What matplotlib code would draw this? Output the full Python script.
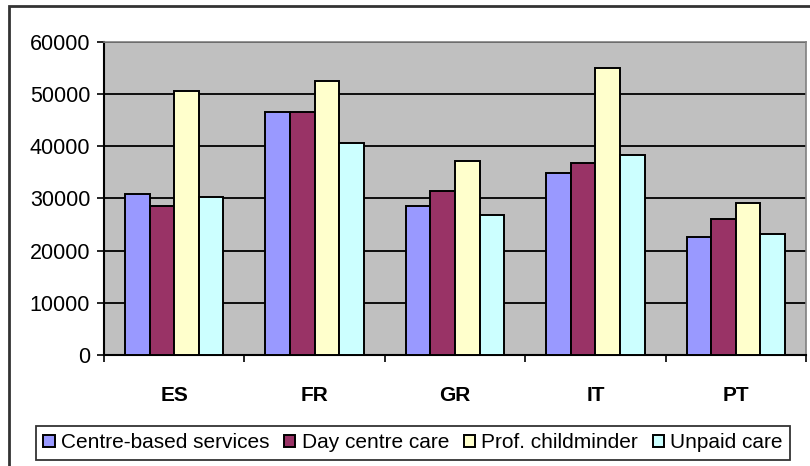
import matplotlib.pyplot as plt
import numpy as np
from matplotlib.patches import Rectangle

plt.rcParams['font.family'] = ['Liberation Sans', 'DejaVu Sans']

countries = ['ES', 'FR', 'GR', 'IT', 'PT']
series = ['Centre-based services', 'Day centre care', 'Prof. childminder', 'Unpaid care']
centre_based = [30800, 46500, 28500, 34900, 22600]
day_centre = [28500, 46500, 31500, 36900, 26100]
prof_childminder = [50700, 52600, 37200, 55000, 29200]
unpaid_care = [30300, 40700, 26900, 38300, 23100]
colors = ['#9999FF', '#993366', '#FFFFCC', '#CCFFFF']

fig = plt.figure(figsize=(8.1, 4.66), dpi=100)
ax = fig.add_axes([104 / 810, 1 - 355 / 466, 702 / 810, 313 / 466])
ax.set_facecolor('#C0C0C0')

x = np.arange(len(countries))
w = 0.175
for i, (vals, c, name) in enumerate(zip([centre_based, day_centre, prof_childminder, unpaid_care],
                                         colors, series)):
    ax.bar(x + (i - 1.5) * w, vals, w, color=c, edgecolor='black', linewidth=1.4,
           label=name, zorder=3)

ax.set_xlim(-0.5, len(countries) - 0.5)
ax.set_ylim(0, 60000)
ax.set_yticks(range(0, 60001, 10000))
ax.yaxis.grid(True, color='black', linewidth=1.3, zorder=1)
ax.set_axisbelow(True)

ax.set_xticks(x)
ax.set_xticklabels(countries, fontsize=15, fontweight='bold')
ax.set_xticks(np.arange(-0.5, len(countries), 1), minor=True)
ax.tick_params(axis='x', which='major', length=0, pad=22)
ax.tick_params(axis='x', which='minor', length=5, width=1.2, direction='out')
ax.tick_params(axis='y', length=5, width=1.2, labelsize=15.5, pad=5)

for s in ['left', 'bottom']:
    ax.spines[s].set_color('black')
    ax.spines[s].set_linewidth(1.5)
for s in ['top', 'right']:
    ax.spines[s].set_color('#808080')
    ax.spines[s].set_linewidth(1.2)

# outer chart border (right and bottom fall outside the image)
fig.patches.append(Rectangle((9 / 810, -0.05), 1.1, 1 - 6 / 466 + 0.05,
                             transform=fig.transFigure, fill=False,
                             edgecolor='#333333', linewidth=2))

leg = fig.legend(loc='center', bbox_to_anchor=(413 / 810, 1 - 443 / 466), ncol=4,
                 fontsize=15, frameon=True, fancybox=False, edgecolor='black',
                 handlelength=0.55, handleheight=0.55, handletextpad=0.3,
                 columnspacing=0.7, borderpad=0.35)
leg.get_frame().set_linewidth(1.3)

fig.savefig('out.png', dpi=100)
